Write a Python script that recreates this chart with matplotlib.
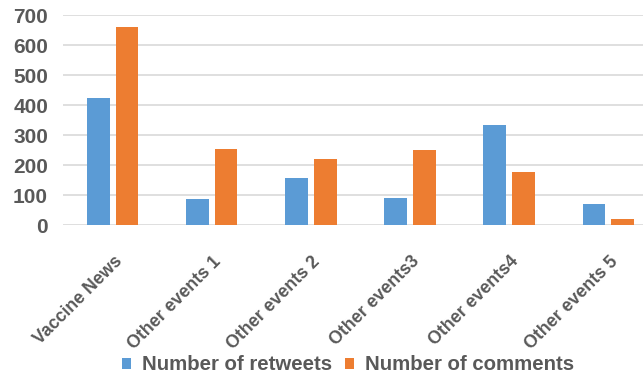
import matplotlib
matplotlib.use("Agg")
import matplotlib.pyplot as plt
import matplotlib.transforms as mtransforms
import numpy as np

categories = ["Vaccine News", "Other events 1", "Other events 2",
              "Other events3", "Other events4", "Other events 5"]
retweets = [424, 86, 157, 90, 334, 70]
comments = [661, 252, 220, 251, 177, 20]
yticks = [0, 100, 200, 300, 400, 500, 600, 700]

BLUE = "#5B9BD5"
ORANGE = "#ED7D31"
TEXT = "#595959"
GRID = "#D9D9D9"

plt.rcParams["font.family"] = ["Liberation Sans", "DejaVu Sans"]
plt.rcParams["font.weight"] = "bold"

fig = plt.figure(figsize=(6.43, 3.76), dpi=100)
ax = fig.add_axes([63 / 643, 1 - 225 / 376, 1 - 63 / 643, (225 - 15) / 376])

x = np.arange(len(categories))
w = 0.23
off = 0.145
ax.bar(x - off, retweets, w, color=BLUE, label="Number of retweets", zorder=3)
ax.bar(x + off, comments, w, color=ORANGE, label="Number of comments", zorder=3)

ax.set_xlim(-0.5, 5.35)
ax.set_ylim(0, 700)
ax.set_yticks(yticks)
ax.yaxis.grid(True, color=GRID, linewidth=1.2, zorder=0)
ax.set_axisbelow(True)
for s in ax.spines.values():
    s.set_visible(False)

ax.tick_params(axis="y", length=0, pad=10.8, labelsize=15, labelcolor=TEXT)
ax.set_xticks(x)
ax.set_xticklabels([])
ax.tick_params(axis="x", length=0)

# rotated category labels, end of each label sits a little right of and below its group
shift = mtransforms.ScaledTranslation(0.07, -0.34, fig.dpi_scale_trans)
for xi, name in zip(x, categories):
    ax.text(xi, 0, name, transform=ax.get_xaxis_transform() + shift,
            rotation=45, ha="right", va="center", rotation_mode="anchor",
            fontsize=12.8, color=TEXT, fontweight="bold")

fig.legend(loc="center", bbox_to_anchor=(348 / 643, 1 - 365 / 376), ncol=2,
           frameon=False, fontsize=14.7, handlelength=0.44, handleheight=0.44,
           handletextpad=0.54, columnspacing=0.59, labelcolor=TEXT)

fig.savefig("out.png", dpi=100)
